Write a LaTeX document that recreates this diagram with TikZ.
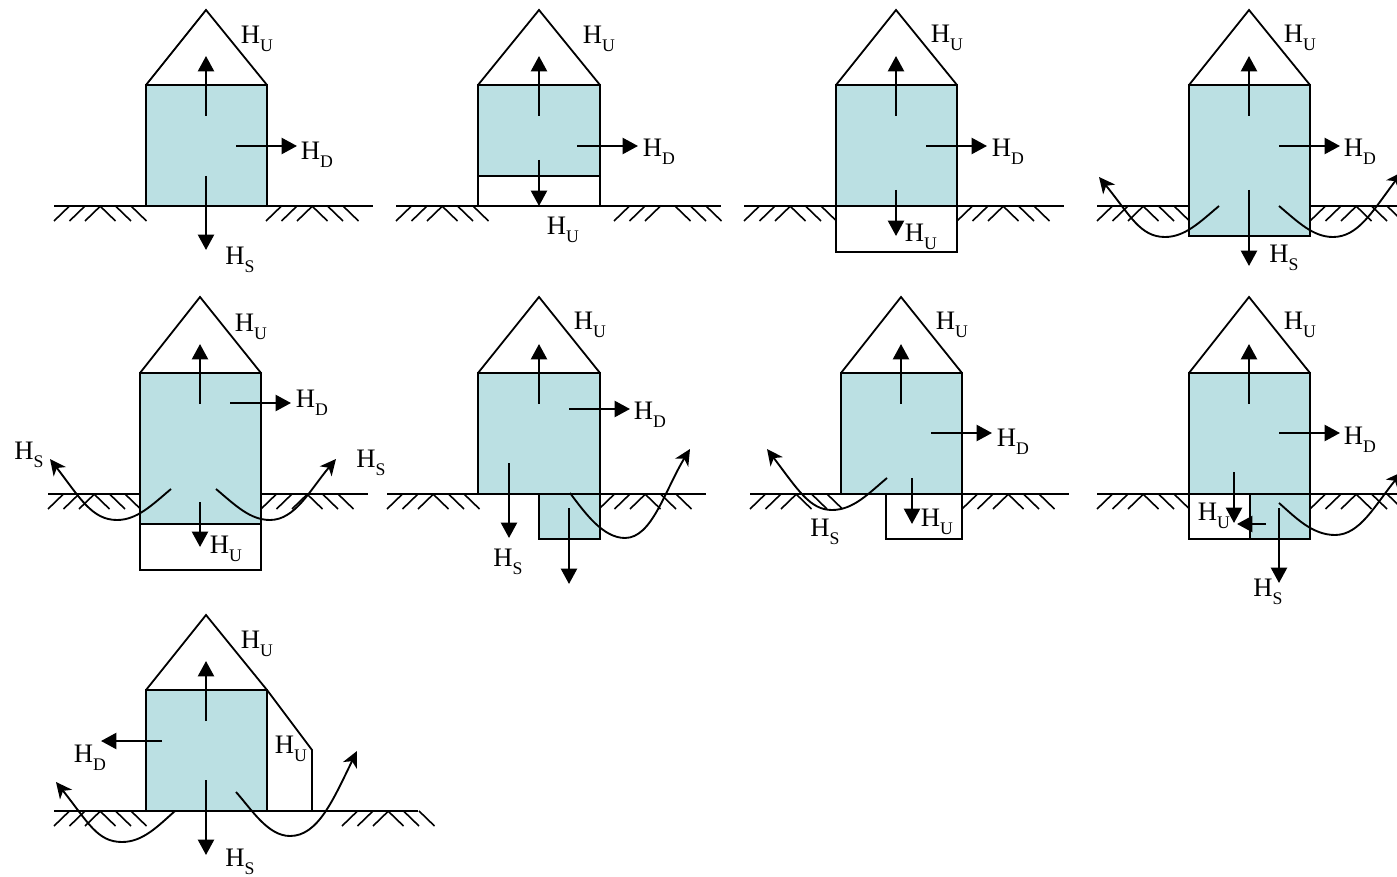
\documentclass[tikz,border=0pt]{standalone}
\usepackage{fontspec}
\setmainfont{Liberation Serif}
\usepackage{xcolor}
\usepackage{tikz}
\usetikzlibrary{arrows.meta}
\definecolor{walltone}{HTML}{BBE0E3}
\tikzset{
	wall/.style={draw=black, fill=walltone, line width=1.6pt, line join=miter},
	gap/.style={draw=black, fill=white, line width=1.6pt},
	roof/.style={draw=black, line width=1.35pt},
	ground/.style={draw=black, line width=1.4pt},
	hatchline/.style={draw=black, line width=1.2pt},
	flow/.style={draw=black, line width=1.7pt, -{Triangle[width=12pt,length=11.5pt]}},
	seep/.style={draw=black, line width=1.4pt, -{Stealth[width=11.5pt,length=12pt,inset=3.5pt]}},
	lab/.style={font=\fontsize{20}{21}\selectfont, inner sep=0pt}
}
\newcommand{\hlab}[1]{H\raisebox{-0.32em}{\fontsize{13.3}{14}\selectfont #1}}
\newcommand{\groundhatch}[3][46]{
	\foreach \k in {0,15.5,31} {
		\draw[hatchline] (#2+\k,#3+15) -- (#2+\k+15.5,#3);
		\draw[hatchline] (#2+\k+#1,#3) -- (#2+\k+#1+15.5,#3+15);
	}
}
\begin{document}
\begin{tikzpicture}[x=0.75pt,y=-0.75pt]
	\useasboundingbox (0,0) rectangle (1397,877);
	\clip (0,0) rectangle (1397,877);

	\groundhatch{54}{206}
	\groundhatch{266}{206}
	\draw[ground] (54,206) -- (373,206);
	\draw[roof] (146,85) -- (206,10) -- (267,85);
	\draw[wall] (146,85) rectangle (267,206);
	\draw[flow] (206,116) -- (206,56);
	\draw[flow] (236,146) -- (297,146);
	\draw[flow] (206,176) -- (206,250);
	\node[lab] (hu1) at (257,39) {\hlab{U}};
	\node[lab] (hd1) at (317,155) {\hlab{D}};
	\node[lab] (hs1) at (240,260) {\hlab{S}};

	\groundhatch{396}{206}
	\groundhatch[61]{614}{206}
	\draw[ground] (396,206) -- (721,206);
	\draw[roof] (478,85) -- (539,10) -- (600,85);
	\draw[gap] (478,176) rectangle (600,206);
	\draw[wall] (478,85) rectangle (600,176);
	\draw[flow] (539,116) -- (539,56);
	\draw[flow] (577,146) -- (638,146);
	\draw[flow] (539,160) -- (539,206);
	\node[lab] (hu2) at (599,39) {\hlab{U}};
	\node[lab] (hd2) at (659,152) {\hlab{D}};
	\node[lab] (hu2b) at (563,230) {\hlab{U}};

	\groundhatch{744}{206}
	\groundhatch{957}{206}
	\draw[ground] (744,206) -- (1064,206);
	\draw[roof] (836,85) -- (896,10) -- (957,85);
	\draw[gap] (836,206) rectangle (957,252);
	\draw[wall] (836,85) rectangle (957,206);
	\draw[flow] (896,116) -- (896,56);
	\draw[flow] (926,146) -- (987,146);
	\draw[flow] (896,190) -- (896,236);
	\node[lab] (hu3) at (947,38) {\hlab{U}};
	\node[lab] (hd3) at (1008,152) {\hlab{D}};
	\node[lab] (hu3b) at (921,237) {\hlab{U}};

	\groundhatch{1097}{206}
	\groundhatch{1310}{206}
	\draw[ground] (1097,206) -- (1397,206);
	\draw[roof] (1189,85) -- (1249,10) -- (1310,85);
	\draw[wall] (1189,85) rectangle (1310,236);
	\draw[flow] (1249,116) -- (1249,56);
	\draw[flow] (1279,146) -- (1340,146);
	\draw[flow] (1249,190) -- (1249,266);
	\draw[seep] (1219,206) .. controls (1200,222) and (1185,237) .. (1165,237) .. controls (1140,237) and (1130,215) .. (1099,177);
	\draw[seep] (1279,206) .. controls (1298,222) and (1313,237) .. (1333,237) .. controls (1358,237) and (1372,212) .. (1402,172);
	\node[lab] (hu4) at (1300,38) {\hlab{U}};
	\node[lab] (hd4) at (1360,152) {\hlab{D}};
	\node[lab] (hs4) at (1284,258) {\hlab{S}};

	\groundhatch{48}{494}
	\groundhatch{261}{494}
	\draw[ground] (48,494) -- (368,494);
	\draw[roof] (140,373) -- (200,297) -- (261,373);
	\draw[gap] (140,524) rectangle (261,570);
	\draw[wall] (140,373) rectangle (261,524);
	\draw[flow] (200,404) -- (200,344);
	\draw[flow] (230,403) -- (291,403);
	\draw[flow] (200,502) -- (200,547);
	\draw[seep] (171,489) .. controls (152,505) and (137,520) .. (117,520) .. controls (92,520) and (80,498) .. (50,459);
	\draw[seep] (216,489) .. controls (235,505) and (250,520) .. (270,520) .. controls (295,520) and (310,490) .. (336,459);
	\node[lab] (hu5) at (251,327) {\hlab{U}};
	\node[lab] (hd5) at (312,403) {\hlab{D}};
	\node[lab] (hs5a) at (29,455) {\hlab{S}};
	\node[lab] (hs5b) at (371,463) {\hlab{S}};
	\node[lab] (hu5b) at (226,549) {\hlab{U}};

	\groundhatch{387}{494}
	\groundhatch{599}{494}
	\draw[ground] (387,494) -- (706,494);
	\draw[roof] (478,373) -- (539,297) -- (600,373);
	\draw[wall] (539,494) rectangle (600,539);
	\draw[wall] (478,373) rectangle (600,494);
	\draw[flow] (539,404) -- (539,344);
	\draw[flow] (569,409) -- (630,409);
	\draw[flow] (509,463) -- (509,538);
	\draw[flow] (569,508) -- (569,584);
	\draw[seep] (570,493) .. controls (585,513) and (603,538) .. (625,538) .. controls (652,538) and (665,490) .. (690,449);
	\node[lab] (hu6) at (590,325) {\hlab{U}};
	\node[lab] (hd6) at (650,415) {\hlab{D}};
	\node[lab] (hs6) at (508,562) {\hlab{S}};

	\groundhatch{750}{494}
	\groundhatch{962}{494}
	\draw[ground] (750,494) -- (1069,494);
	\draw[roof] (841,373) -- (901,297) -- (962,373);
	\draw[gap] (886,494) rectangle (962,539);
	\draw[wall] (841,373) rectangle (962,494);
	\draw[flow] (901,404) -- (901,344);
	\draw[flow] (931,433) -- (992,433);
	\draw[flow] (912,478) -- (912,524);
	\draw[seep] (887,478) .. controls (868,494) and (853,510) .. (832,510) .. controls (810,510) and (798,490) .. (767,449);
	\node[lab] (hu7) at (952,325) {\hlab{U}};
	\node[lab] (hd7) at (1013,442) {\hlab{D}};
	\node[lab] (hu7b) at (937,522) {\hlab{U}};
	\node[lab] (hs7) at (825,532) {\hlab{S}};

	\groundhatch{1097}{494}
	\groundhatch{1310}{494}
	\draw[ground] (1097,494) -- (1397,494);
	\draw[roof] (1189,373) -- (1249,297) -- (1310,373);
	\draw[gap] (1189,494) rectangle (1250,539);
	\draw[wall] (1250,494) rectangle (1310,539);
	\draw[wall] (1189,373) rectangle (1310,494);
	\draw[flow] (1249,404) -- (1249,344);
	\draw[flow] (1279,433) -- (1340,433);
	\draw[flow] (1234,472) -- (1234,523);
	\draw[flow] (1266,524) -- (1237,524);
	\draw[flow] (1279,508) -- (1279,583);
	\draw[seep] (1279,503) .. controls (1295,517) and (1312,535) .. (1335,535) .. controls (1360,535) and (1375,505) .. (1402,472);
	\node[lab] (hu8) at (1300,325) {\hlab{U}};
	\node[lab] (hd8) at (1360,440) {\hlab{D}};
	\node[lab] (hu8b) at (1214,516) {\hlab{U}};
	\node[lab] (hs8) at (1268,592) {\hlab{S}};

	\groundhatch{54}{811}
	\groundhatch{342}{811}
	\draw[ground] (54,811) -- (418,811);
	\draw[roof] (146,690) -- (206,615) -- (267,690);
	\draw[roof] (267,690) -- (312,750) -- (312,811);
	\draw[wall] (146,690) rectangle (267,811);
	\draw[flow] (206,721) -- (206,661);
	\draw[flow] (162,741) -- (101,741);
	\draw[flow] (206,780) -- (206,855);
	\draw[seep] (175,811) .. controls (158,826) and (143,842) .. (122,842) .. controls (97,842) and (88,822) .. (56,782);
	\draw[seep] (236,792) .. controls (252,810) and (268,836) .. (290,836) .. controls (318,836) and (333,800) .. (357,751);
	\node[lab] (hu9) at (257,644) {\hlab{U}};
	\node[lab] (hd9) at (90,758) {\hlab{D}};
	\node[lab] (hu9b) at (291,749) {\hlab{U}};
	\node[lab] (hs9) at (240,862) {\hlab{S}};
\end{tikzpicture}
\end{document}
